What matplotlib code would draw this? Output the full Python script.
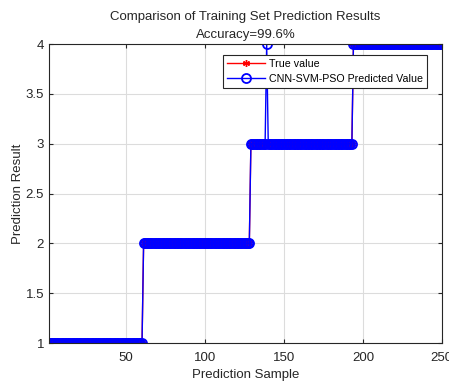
import numpy as np
import matplotlib.pyplot as plt

plt.rcParams['font.family'] = ['Liberation Sans', 'DejaVu Sans']

# class boundaries (last sample index of each class)
n_samples = 250
class_ends = [60, 128, 193, 250]
class_labels = [1, 2, 3, 4]
# misclassified sample: index -> predicted class
wrong_idx = [139]
wrong_pred = [4]

samples = np.arange(1, n_samples + 1)
true_vals = np.zeros(n_samples)
start = 0
for end, lab in zip(class_ends, class_labels):
    true_vals[start:end] = lab
    start = end
pred_vals = true_vals.copy()
for i, p in zip(wrong_idx, wrong_pred):
    pred_vals[i - 1] = p

accuracy = np.mean(pred_vals == true_vals) * 100

fig = plt.figure(figsize=(4.49, 3.83), dpi=100)
ax = fig.add_axes([0.109, 0.104, 0.875, 0.781])

# asterisk marker like matlab '*'
ax.plot(samples, true_vals, '-', marker=(6, 2, 0), color='red', lw=1, ms=5,
        mew=1, label='True value')
ax.plot(samples, pred_vals, '-o', color='blue', lw=1, ms=6.5, mfc='none',
        mew=1.3, label='CNN-SVM-PSO Predicted Value')

ax.set_xlim(1, 250)
ax.set_ylim(1, 4)
ax.set_xticks([50, 100, 150, 200, 250])
ax.set_yticks([1, 1.5, 2, 2.5, 3, 3.5, 4])
ax.set_yticklabels(['1', '1.5', '2', '2.5', '3', '3.5', '4'])
ax.grid(True, color='#dcdcdc', lw=0.8)
ax.set_axisbelow(True)
ax.tick_params(direction='in', top=True, right=True, labelsize=9.5,
               colors='#262626', length=3)
ax.tick_params(axis='x', pad=6)
for s in ax.spines.values():
    s.set_color('#262626')
    s.set_linewidth(0.8)

ax.set_xlabel('Prediction Sample', fontsize=9.5, color='#262626', labelpad=4)
ax.set_ylabel('Prediction Result', fontsize=9.5, color='#262626', labelpad=1)
ax.set_title('Comparison of Training Set Prediction Results\nAccuracy=%.1f%%' % accuracy,
             fontsize=9.5, color='#262626', pad=4, linespacing=1.75)

leg = ax.legend(loc='upper right', bbox_to_anchor=(0.962, 0.965), fontsize=7.7,
                fancybox=False, framealpha=1, edgecolor='#262626',
                borderpad=0.4, handlelength=3.6, labelspacing=0.5,
                handletextpad=0.3, borderaxespad=0)
leg.get_frame().set_linewidth(0.8)

fig.savefig('out.png', dpi=100)
